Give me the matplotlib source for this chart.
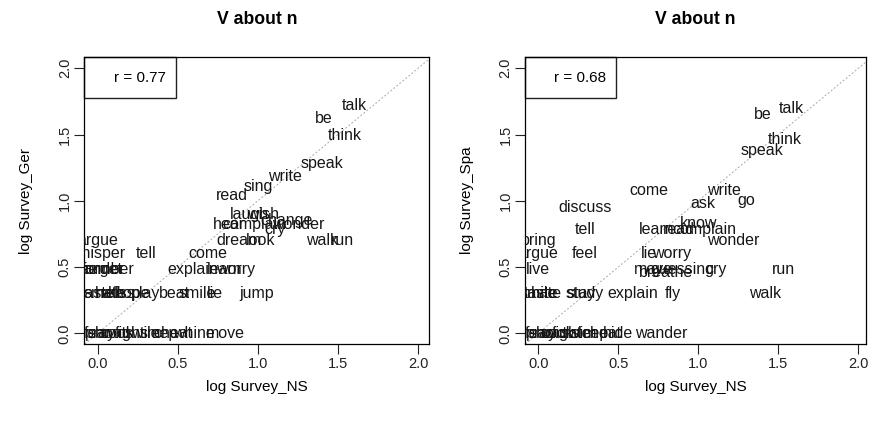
import matplotlib
matplotlib.use("Agg")
import matplotlib.pyplot as plt
from matplotlib.patches import Rectangle

plt.rcParams['font.family'] = ['Liberation Sans', 'DejaVu Sans']

# 德语调查 (log Survey_NS vs log Survey_Ger)
ger_words = ['talk', 'be', 'think', 'speak', 'write', 'sing', 'read',
             'laugh', 'wish', 'hear', 'complain', 'change', 'wonder', 'cry',
             'dream', 'look', 'walk', 'run',
             'argue', 'whisper', 'tell', 'come',
             'remember', 'wander', 'forget', 'explain', 'learn', 'worry',
             'taste', 'smell', 'hate', 'kiss', 'hope', 'play', 'beat', 'smile', 'lie', 'jump',
             'fear', 'pray', 'shout', 'cook', 'fight', 'swim', 'sleep', 'cheat', 'whine', 'move']
ger_x = [1.60, 1.41, 1.54, 1.40, 1.17, 1.00, 0.84,
         0.95, 1.03, 0.82, 0.98, 1.18, 1.25, 1.11,
         0.88, 1.02, 1.40, 1.53,
         0.00, 0.00, 0.30, 0.69,
         0.00, 0.00, 0.03, 0.59, 0.79, 0.86,
         0.00, 0.03, 0.08, 0.15, 0.22, 0.30, 0.48, 0.62, 0.73, 0.99,
         0.00, 0.02, 0.06, 0.12, 0.20, 0.28, 0.38, 0.47, 0.60, 0.80]
ger_y = [1.72, 1.62, 1.49, 1.28, 1.18, 1.11, 1.04,
         0.90, 0.90, 0.82, 0.82, 0.85, 0.82, 0.78,
         0.70, 0.70, 0.70, 0.70,
         0.70, 0.60, 0.60, 0.60,
         0.48, 0.48, 0.48, 0.48, 0.48, 0.48,
         0.30, 0.30, 0.30, 0.30, 0.30, 0.30, 0.30, 0.30, 0.30, 0.30,
         0.00, 0.00, 0.00, 0.00, 0.00, 0.00, 0.00, 0.00, 0.00, 0.00]

# 西语调查 (log Survey_NS vs log Survey_Spa)
spa_words = ['talk', 'be', 'think', 'speak', 'write', 'go', 'ask', 'come', 'discuss',
             'know', 'learn', 'read', 'complain', 'wonder', 'tell',
             'bring', 'argue', 'feel', 'lie', 'worry',
             'live', 'move', 'breathe', 'guessing', 'cry', 'run',
             'smile', 'taste', 'hate', 'study', 'stay', 'explain', 'fly', 'walk',
             'fear', 'pray', 'shout', 'cook', 'fight', 'swim', 'sleep', 'cheat', 'hide', 'wander']
spa_x = [1.58, 1.40, 1.54, 1.40, 1.16, 1.30, 1.03, 0.69, 0.29,
         1.00, 0.74, 0.88, 1.04, 1.22, 0.29,
         0.00, 0.00, 0.29, 0.69, 0.83,
         0.00, 0.72, 0.80, 0.90, 1.11, 1.53,
         0.00, 0.02, 0.05, 0.29, 0.27, 0.59, 0.84, 1.42,
         0.00, 0.02, 0.06, 0.12, 0.18, 0.25, 0.32, 0.40, 0.50, 0.77]
spa_y = [1.70, 1.65, 1.46, 1.38, 1.08, 1.00, 0.98, 1.08, 0.95,
         0.83, 0.78, 0.78, 0.78, 0.70, 0.78,
         0.70, 0.60, 0.60, 0.60, 0.60,
         0.48, 0.48, 0.46, 0.48, 0.48, 0.48,
         0.30, 0.30, 0.30, 0.30, 0.30, 0.30, 0.30, 0.30,
         0.00, 0.00, 0.00, 0.00, 0.00, 0.00, 0.00, 0.00, 0.00, 0.00]

panels = [('log Survey_Ger', ger_words, ger_x, ger_y, 'r = 0.77'),
          ('log Survey_Spa', spa_words, spa_x, spa_y, 'r = 0.68')]
ticks = [0.0, 0.5, 1.0, 1.5, 2.0]

fig = plt.figure(figsize=(8.71, 4.25), dpi=100)
# 两个面板的位置 (像素换算成比例)
ax_rects = [[84.3 / 871, 81 / 425, 345 / 871, 286.7 / 425],
            [525 / 871, 81 / 425, 341 / 871, 286.7 / 425]]
xlims = [(-0.084, 2.07), (-0.083, 2.048)]

for rect, xl, (ylab, words, xs, ys, rtxt) in zip(ax_rects, xlims, panels):
    ax = fig.add_axes(rect)
    ax.set_xlim(*xl)
    ax.set_ylim(-0.081, 2.083)
    # 对角参考线
    ax.axline((0, 0), slope=1, ls=(0, (2, 2)), color='#aaaaaa', lw=0.7)
    for w, x, y in zip(words, xs, ys):
        ax.text(x, y, w, ha='center', va='center', fontsize=11.5,
                color='#161616', clip_on=True)
    ax.set_xticks(ticks)
    ax.set_yticks(ticks)
    ax.set_xticklabels(['%.1f' % t for t in ticks], fontsize=10.5)
    ax.set_yticklabels(['%.1f' % t for t in ticks], fontsize=10.5,
                       rotation=90, va='center')
    ax.tick_params(direction='out', length=7, width=0.8, pad=2, colors='#222222')
    for s in ax.spines.values():
        s.set_linewidth(0.9)
    ax.set_xlabel('log Survey_NS', fontsize=11, labelpad=7)
    ax.set_ylabel(ylab, fontsize=11, labelpad=18)
    ax.set_title('V about n', fontsize=12.7, fontweight='bold', pad=24)
    # 左上角相关系数框
    ax.add_patch(Rectangle((0, 1 - 0.143), 0.266, 0.143, transform=ax.transAxes,
                           fill=False, lw=1.0, ec='#222222', clip_on=False))
    ax.text(0.162, 0.927, rtxt, transform=ax.transAxes, ha='center', va='center',
            fontsize=11)

fig.savefig('out.png', dpi=100)
